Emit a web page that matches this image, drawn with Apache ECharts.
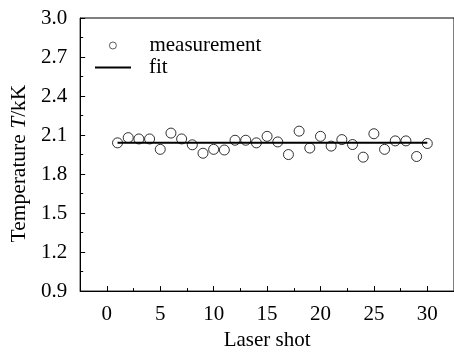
<!DOCTYPE html>
<html>
<head>
<meta charset="utf-8">
<script src="https://cdn.jsdelivr.net/npm/echarts@6/dist/echarts.min.js"></script>
<style>
  html, body { margin: 0; padding: 0; background: #fff; }
  #chart { width: 454px; height: 356px; }
</style>
</head>
<body>
<div id="chart"></div>
<script>
// laser shot number and measured temperature (kK)
const shots = [1, 2, 3, 4, 5, 6, 7, 8, 9, 10, 11, 12, 13, 14, 15,
  16, 17, 18, 19, 20, 21, 22, 23, 24, 25, 26, 27, 28, 29, 30];
const temps = [2.04, 2.08, 2.07, 2.07, 1.99, 2.115, 2.07, 2.025, 1.96, 1.99,
  1.985, 2.06, 2.06, 2.04, 2.09, 2.047, 1.95, 2.13, 2.0, 2.09,
  2.015, 2.065, 2.027, 1.93, 2.11, 1.99, 2.055, 2.055, 1.935, 2.035];
// linear fit endpoints
const fitX = [1, 30];
const fitY = [2.04, 2.04];
const xMajor = [0, 5, 10, 15, 20, 25, 30];
const xMinor = [2.5, 7.5, 12.5, 17.5, 22.5, 27.5];

const font = 'Liberation Serif';
const chart = echarts.init(document.getElementById('chart'));

const txt = { fontFamily: font, fontSize: 21, color: '#000' };
const rich = { a: txt, b: Object.assign({}, txt, { fontStyle: 'italic' }) };
const nameRich = {
  a: Object.assign({}, txt, { fontSize: 21.5 }),
  b: Object.assign({}, txt, { fontSize: 21.5, fontStyle: 'italic' })
};
const wrap = s => '{a|' + s + '}';

const option = {
  animation: false,
  backgroundColor: '#fff',
  textStyle: { fontFamily: font, color: '#000' },
  grid: {
    left: 79, top: 18, right: -3, bottom: 58,
    show: true, borderColor: '#000', borderWidth: 1
  },
  legend: [
    {
      data: ['measurement'],
      left: 104, top: 30,
      itemWidth: 7, itemHeight: 7,
      itemStyle: { borderWidth: 0.8 },
      formatter: wrap,
      textStyle: { padding: [0, 0, 0, 28], rich: rich }
    },
    {
      data: [{ name: 'fit', icon: 'rect' }],
      left: 90, top: 52,
      itemWidth: 36, itemHeight: 2,
      formatter: wrap,
      textStyle: { padding: [0, 0, 0, 13], rich: rich }
    }
  ],
  xAxis: [
    {
      type: 'value',
      min: -2.5, max: 32.5,
      name: wrap('Laser shot'),
      nameLocation: 'middle',
      nameGap: 36,
      nameTextStyle: { rich: rich },
      axisLine: { onZero: false, lineStyle: { color: '#000', width: 1 } },
      axisTick: { inside: true, length: 5, customValues: xMajor, lineStyle: { color: '#000' } },
      axisLabel: { customValues: xMajor, margin: 13, formatter: v => wrap(v), rich: rich },
      splitLine: { show: false }
    },
    {
      type: 'value',
      position: 'bottom',
      min: -2.5, max: 32.5,
      axisLine: { show: false, onZero: false },
      axisTick: { inside: true, length: 3, customValues: xMinor, lineStyle: { color: '#000' } },
      axisLabel: { show: false },
      splitLine: { show: false }
    }
  ],
  yAxis: {
    type: 'value',
    min: 0.9, max: 3.0, interval: 0.3,
    name: '{a|Temperature }{b|T}{a|/kK}',
    nameLocation: 'middle',
    nameGap: 50,
    // pushes the rotated title a little below the plot centre, as in the source
    nameTextStyle: { rich: nameRich, padding: [0, 18, 0, 0] },
    axisLine: { show: true, onZero: false, lineStyle: { color: '#000', width: 1 } },
    axisTick: { inside: true, length: 5, lineStyle: { color: '#000' } },
    minorTick: { show: true, splitNumber: 2, length: 3, lineStyle: { color: '#000' } },
    axisLabel: { margin: 13, formatter: v => wrap(v.toFixed(1)), rich: rich },
    splitLine: { show: false }
  },
  series: [
    {
      name: 'fit',
      type: 'line',
      data: fitX.map((x, i) => [x, fitY[i]]),
      symbol: 'none',
      z: 3,
      lineStyle: { color: '#000', width: 2 },
      itemStyle: { color: '#000' }
    },
    {
      name: 'measurement',
      type: 'scatter',
      data: shots.map((x, i) => [x, temps[i]]),
      symbol: 'circle',
      symbolSize: 10,
      z: 4,
      itemStyle: { color: 'rgba(0,0,0,0)', borderColor: '#000', borderWidth: 1 }
    }
  ]
};

chart.setOption(option);
</script>
</body>
</html>
